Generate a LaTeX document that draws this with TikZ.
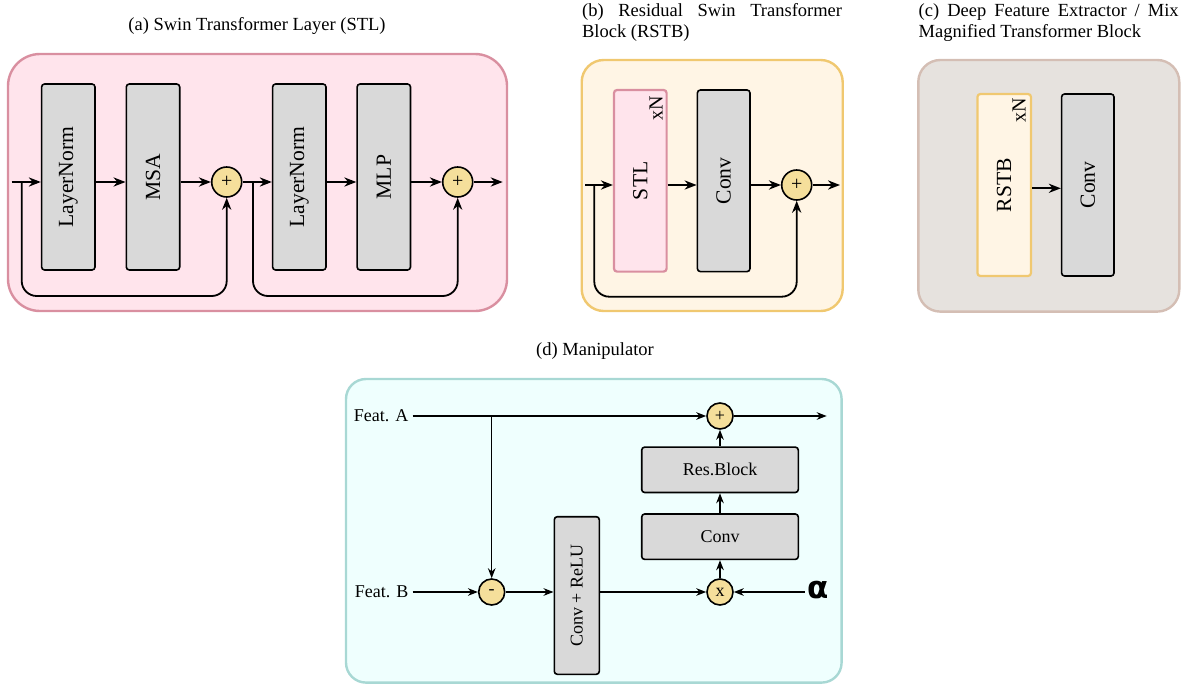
\documentclass[tikz,border=0pt]{standalone}
\usepackage{fontspec}
\setmainfont{Liberation Serif}
\newfontfamily\alphafont{DejaVu Sans}
\usepackage{graphicx}
\usetikzlibrary{arrows.meta}

\definecolor{pinkbg}{HTML}{FFE4EC}
\definecolor{pinkbd}{HTML}{D98FA0}
\definecolor{creambg}{HTML}{FFF5E5}
\definecolor{creambd}{HTML}{F0C870}
\definecolor{greybg}{HTML}{E6E2DE}
\definecolor{greybd}{HTML}{D4BEB4}
\definecolor{cyanbg}{HTML}{EFFFFE}
\definecolor{cyanbd}{HTML}{A8D8D4}
\definecolor{opfill}{HTML}{F5DF9B}
\definecolor{blockfill}{HTML}{D9D9D9}

\newcommand{\ttlfont}{\fontsize{9.25}{10.6}\selectfont}
\newcommand{\blkfont}{\fontsize{10.8}{12}\selectfont}
\newcommand{\manfont}{\fontsize{9}{10.5}\selectfont}

\begin{document}
\begin{tikzpicture}[x=0.5pt,y=-0.5pt,
  panel/.style={rectangle, line width=1.2pt, inner sep=0pt},
  box/.style={draw, fill=blockfill, line width=0.8pt, rounded corners=1.5pt, inner sep=0pt, font=\blkfont},
  op/.style={circle, draw, fill=opfill, line width=0.8pt, minimum size=15pt, inner sep=0pt, font=\fontsize{10}{10}\selectfont},
  arr/.style={line width=0.9pt, -{Stealth[length=6pt,width=4.6pt]}},
  arrd/.style={line width=0.7pt, -{Stealth[length=5pt,width=3.8pt]}}]
\useasboundingbox (0,0) rectangle (1191,686);

% (a) STL
\node[font=\ttlfont] (ta) at (257,26) {(a) Swin Transformer Layer (STL)};
\node[panel, draw=pinkbd, fill=pinkbg, rounded corners=16pt, minimum width=249.5pt, minimum height=128.5pt] (pa) at (257.5,182.5) {};
\node[box, minimum width=26.7pt, minimum height=93pt] (ln1) at (68.3,177) {\rotatebox{90}{LayerNorm}};
\node[box, minimum width=26.7pt, minimum height=93pt] (msa) at (153,177) {\rotatebox{90}{MSA}};
\node[box, minimum width=26.7pt, minimum height=93pt] (ln2) at (299.3,177) {\rotatebox{90}{LayerNorm}};
\node[box, minimum width=26.7pt, minimum height=93pt] (mlp) at (383.8,177) {\rotatebox{90}{MLP}};
\node[op] (add1) at (226.7,182) {+};
\node[op] (add2) at (457.7,182) {+};
\coordinate (ain) at (11.7,182);
\coordinate (aout) at (502.7,182);
\coordinate (sa1) at (21.7,182);
\coordinate (sa2) at (253,182);
\draw[arr] (ain) -- (ain -| ln1.west);
\draw[arr] (ain -| ln1.east) -- (ain -| msa.west);
\draw[arr] (ain -| msa.east) -- (add1.west);
\draw[arr] (add1.east) -- (ain -| ln2.west);
\draw[arr] (ain -| ln2.east) -- (ain -| mlp.west);
\draw[arr] (ain -| mlp.east) -- (add2.west);
\draw[arr] (add2.east) -- (aout);
\draw[arr, rounded corners=7.5pt] (sa1) -- ++(0,114) -| (add1.south);
\draw[arr, rounded corners=7.5pt] (sa2) -- ++(0,114) -| (add2.south);

% (b) RSTB
\node[font=\ttlfont, text width=130pt, align=justify, anchor=north west, inner sep=0pt] (tb) at (581.7,3) {(b) Residual Swin Transformer\linebreak Block (RSTB)};
\node[panel, draw=creambd, fill=creambg, rounded corners=11pt, minimum width=130.5pt, minimum height=125.5pt] (pb) at (712.2,185.5) {};
\node[box, draw=pinkbd, fill=pinkbg, line width=1.1pt, minimum width=26.3pt, minimum height=90.8pt] (stl) at (640.3,180.8) {\rotatebox{90}{STL}};
\node[font=\fontsize{10}{10}\selectfont, rotate=90, inner sep=0pt] (stlxn) at (656,108) {xN};
\node[box, minimum width=26.3pt, minimum height=90.8pt] (convb) at (723.7,180.8) {\rotatebox{90}{Conv}};
\node[op] (addb) at (796.7,185) {+};
\coordinate (bin) at (585,185);
\coordinate (bout) at (840,185);
\coordinate (sb) at (594.3,185);
\draw[arr] (bin) -- (bin -| stl.west);
\draw[arr] (bin -| stl.east) -- (bin -| convb.west);
\draw[arr] (bin -| convb.east) -- (addb.west);
\draw[arr] (addb.east) -- (bout);
\draw[arr, rounded corners=7.5pt] (sb) -- ++(0,111.7) -| (addb.south);

% (c) deep feature extractor
\node[font=\ttlfont, text width=130pt, align=justify, anchor=north west, inner sep=0pt] (tc) at (918.3,3) {(c) Deep Feature Extractor / Mix\linebreak Magnified Transformer Block};
\node[panel, draw=greybd, fill=greybg, rounded corners=11pt, minimum width=130.5pt, minimum height=125.8pt] (pc) at (1048.8,185.8) {};
\node[box, draw=creambd, fill=creambg, line width=1.1pt, minimum width=26.8pt, minimum height=91pt] (rstb) at (1004.2,185) {\rotatebox{90}{RSTB}};
\node[font=\fontsize{10}{10}\selectfont, rotate=90, inner sep=0pt] (rstbxn) at (1019,110) {xN};
\node[box, minimum width=26.2pt, minimum height=91pt] (convc) at (1087.8,185) {\rotatebox{90}{Conv}};
\coordinate (cmid) at (1031,188.3);
\draw[arr] (cmid -| rstb.east) -- (cmid -| convc.west);

% (d) Manipulator
\node[font=\ttlfont] (td) at (595,351) {(d) Manipulator};
\node[panel, draw=cyanbd, fill=cyanbg, rounded corners=10pt, minimum width=247.8pt, minimum height=151.8pt] (pd) at (593.8,530.8) {};
\node[font=\manfont, anchor=east, inner sep=2pt] (fa) at (412.7,416) {Feat. A};
\node[font=\manfont, anchor=east, inner sep=2pt] (fb) at (412.7,592) {Feat. B};
\node[op, minimum size=13pt, font=\fontsize{9}{9}\selectfont] (addd) at (720,416) {+};
\node[op, minimum size=13pt, font=\fontsize{9}{9}\selectfont] (sub) at (491.7,592) {-};
\node[op, minimum size=13pt, font=\fontsize{9}{9}\selectfont] (mul) at (720,592) {x};
\node[box, font=\manfont, minimum width=22.5pt, minimum height=78.8pt] (crelu) at (576.8,595.5) {\rotatebox{90}{Conv + ReLU}};
\node[box, font=\manfont, minimum width=78.3pt, minimum height=22.7pt] (convd) at (720,536.7) {Conv};
\node[box, font=\manfont, minimum width=78.3pt, minimum height=22.7pt] (resb) at (720,469.8) {Res.Block};
\node[font=\fontsize{15.5}{16}\selectfont\alphafont\bfseries, inner sep=1pt] (alpha) at (818,590) {α};
\coordinate (dsplit) at (491.7,416);
\coordinate (dout) at (826.7,416);
\draw[arrd] (fa.east) -- (addd.west);
\draw[arrd] (addd.east) -- (dout);
\draw[arrd] (dsplit) -- (sub.north);
\draw[arrd] (fb.east) -- (sub.west);
\draw[arrd] (sub.east) -- (sub -| crelu.west);
\draw[arrd] (mul -| crelu.east) -- (mul.west);
\draw[arrd] (alpha.west |- mul) -- (mul.east);
\draw[arrd] (mul.north) -- (convd.south);
\draw[arrd] (convd.north) -- (resb.south);
\draw[arrd] (resb.north) -- (addd.south);
\end{tikzpicture}
\end{document}
